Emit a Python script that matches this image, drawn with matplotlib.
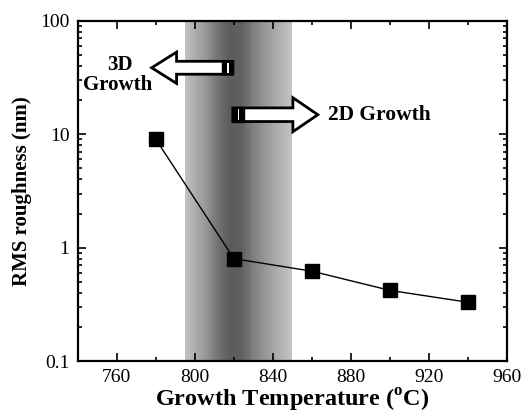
import numpy as np
import matplotlib.pyplot as plt
from matplotlib.patches import Polygon, Rectangle
from matplotlib.ticker import FixedLocator, FuncFormatter, LogLocator, NullFormatter

plt.rcParams['font.family'] = ['Liberation Serif', 'DejaVu Serif']
plt.rcParams['mathtext.fontset'] = 'custom'
plt.rcParams['mathtext.rm'] = 'Liberation Serif:bold'

# Data
temps = [780, 820, 860, 900, 940]
rms = [9.0, 0.8, 0.62, 0.42, 0.33]

x_ticks = [760, 800, 840, 880, 920, 960]
y_ticks = [0.1, 1, 10, 100]

fig = plt.figure(figsize=(5.26, 4.16), dpi=100)
ax = fig.add_axes([0.148, 0.132, 0.816, 0.818])
ax.set_yscale('log')
ax.set_xlim(740, 960)
ax.set_ylim(0.1, 100)

# shaded transition band (darkest around 820 C)
xe = np.linspace(795, 850, 111)
xc = 0.5 * (xe[:-1] + xe[1:])
knots_x = [795, 800, 806, 812, 818, 824, 830, 838, 846, 850]
knots_g = [0.76, 0.68, 0.58, 0.45, 0.36, 0.38, 0.50, 0.62, 0.72, 0.78]
gray = np.interp(xc, knots_x, knots_g)
ax.pcolormesh(xe, [0.1, 100], gray[np.newaxis, :], cmap='gray', vmin=0, vmax=1,
              shading='flat', zorder=0)

ax.plot(temps, rms, color='black', lw=1.0, marker='s', ms=9.5, zorder=3)

# hollow arrows (axes coordinates)
def hollow_arrow(x_tail, x_tip, y, shaft, head, head_len):
    d = 1 if x_tip > x_tail else -1
    xb_ = x_tip - d * head_len
    pts = [(x_tail, y - shaft), (xb_, y - shaft), (xb_, y - head), (x_tip, y),
           (xb_, y + head), (xb_, y + shaft), (x_tail, y + shaft)]
    ax.add_patch(Polygon(pts, closed=True, fc='white', ec='black', lw=2.0,
                         transform=ax.transAxes, zorder=4))
    # black tail block with a white stripe
    bw = 0.025
    bx = x_tail - bw if d < 0 else x_tail
    ax.add_patch(Rectangle((bx, y - shaft), bw, 2 * shaft, fc='black', ec='black',
                           lw=1.0, transform=ax.transAxes, zorder=5))
    ax.add_patch(Rectangle((bx + bw * 0.45, y - shaft * 0.8), bw * 0.15, 1.6 * shaft,
                           fc='white', ec='none', transform=ax.transAxes, zorder=6))

hollow_arrow(0.361, 0.172, 0.862, 0.019, 0.046, 0.058)
hollow_arrow(0.361, 0.559, 0.724, 0.020, 0.050, 0.058)

ax.text(0.097, 0.870, '3D', transform=ax.transAxes, ha='center', va='center',
        fontsize=15, fontweight='bold', zorder=5)
ax.text(0.093, 0.812, 'Growth', transform=ax.transAxes, ha='center', va='center',
        fontsize=15, fontweight='bold', zorder=5)
ax.text(0.583, 0.724, '2D Growth', transform=ax.transAxes, ha='left', va='center',
        fontsize=15.5, fontweight='bold', zorder=5)

# axes styling
ax.xaxis.set_major_locator(FixedLocator(x_ticks))
ax.xaxis.set_minor_locator(FixedLocator(np.arange(740, 961, 20)))
ax.yaxis.set_major_locator(FixedLocator(y_ticks))
ax.yaxis.set_minor_locator(LogLocator(base=10, subs=np.arange(2, 10)))
ax.yaxis.set_minor_formatter(NullFormatter())
ax.yaxis.set_major_formatter(FuncFormatter(lambda v, p: '%g' % v))
ax.tick_params(which='both', direction='in', top=True, right=True, labelsize=14, width=1.2)
ax.tick_params(which='major', length=6, pad=6)
ax.tick_params(which='minor', length=3)
for s in ax.spines.values():
    s.set_linewidth(1.6)

ax.set_xlabel(r'Growth Temperature ($^{\rm o}$C)', fontsize=17.5, fontweight='bold', labelpad=0)
ax.set_ylabel('RMS roughness (nm)', fontsize=15, fontweight='bold', labelpad=6)

fig.savefig('out.png', dpi=100)
